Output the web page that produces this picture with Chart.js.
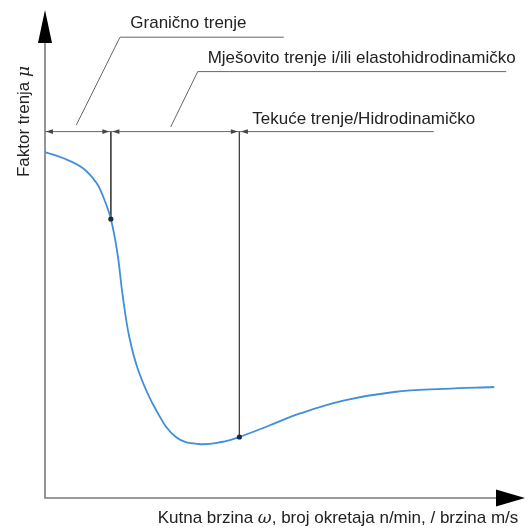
<!DOCTYPE html>
<html>
<head>
<meta charset="utf-8">
<script src="https://cdn.jsdelivr.net/npm/chart.js@4/dist/chart.umd.min.js"></script>
<style>
html,body{margin:0;padding:0;background:#fff;}
#wrap{width:529px;height:528px;position:relative;}
</style>
</head>
<body>
<div id="wrap"><canvas id="c" width="529" height="528"></canvas></div>
<script>
// Stribeck curve (schematic, arbitrary units)
const speed    = [0, 4.5, 9.5, 13, 14.6, 16.6, 18.25, 19.5, 21.25, 23.75, 28, 33, 38.75, 44.5, 49, 56.25, 64.5, 75.5, 88, 100.5, 113.25];
const friction = [86.5, 85, 82.5, 78.75, 75.5, 69.75, 61.25, 51.25, 40.25, 31.25, 22, 15.25, 13.5, 14, 15.25, 18, 21.2, 24.4, 26.5, 27.3, 27.75];
const boundaryIdx = [5, 14];            // transition points on the curve
const regimeLabels = ['Granično trenje', 'Mješovito trenje i/ili elastohidrodinamičko', 'Tekuće trenje/Hidrodinamičko'];
const xAxisTitle = ['Kutna brzina ', 'ω', ', broj okretaja n/min, / brzina m/s'];
const yAxisTitle = ['Faktor trenja ', 'μ'];

const dimLevel = 91.6;      // level of the dimension line (data units)
const dimEnd = 98;
const leader1 = [{x:7.9,y:93.25},{x:18.9,y:115.2},{x:60.2,y:115.2}];
const leader2 = [{x:31.7,y:92.8},{x:38.5,y:106.6},{x:116.25,y:106.6}];
const labelPos = [{x:21.5,y:117.4},{x:41,y:108.75},{x:52.25,y:93.5}];

const curve = speed.map((x,i)=>({x, y:friction[i]}));
const markers = boundaryIdx.map(i=>({x:speed[i], y:friction[i]}));
const lineDs = (data, color, width, order) => ({type:'line', data, borderColor:color, borderWidth:width, pointRadius:0, tension:0, fill:false, order});

const datasets = [
  {data:markers, showLine:false, pointRadius:2.6, pointBackgroundColor:'#1b2a3d', pointBorderColor:'#1b2a3d', pointBorderWidth:0, order:0},
  {type:'line', data:curve, showLine:true, borderColor:'#3f8fdc', borderWidth:1.8, pointRadius:0, tension:0.4, fill:false, order:1},
  lineDs([{x:0,y:dimLevel},{x:dimEnd,y:dimLevel}], '#666', 1, 2),
  lineDs(leader1, '#666', 1, 2),
  lineDs(leader2, '#666', 1, 2),
];
boundaryIdx.forEach(i => datasets.push(lineDs([{x:speed[i],y:dimLevel},{x:speed[i],y:friction[i]}], '#444', 1, 2)));

const FONT = '17px "Liberation Sans", Arial, sans-serif';
const IFONT = 'italic 17px "DejaVu Serif", "Liberation Serif", serif';

function drawSegments(ctx, segs, x, y, align){
  const fonts = segs.map((s,i)=> i%2===1 ? IFONT : FONT);
  let total = 0;
  const widths = segs.map((s,i)=>{ctx.font = fonts[i]; const w = ctx.measureText(s).width; total += w; return w;});
  let cx = align==='center' ? x - total/2 : x;
  ctx.textAlign = 'left';
  segs.forEach((s,i)=>{ctx.font = fonts[i]; ctx.fillText(s, cx, y); cx += widths[i];});
}

const deco = {
  id:'deco',
  beforeDatasetsDraw(chart){
    const {ctx, chartArea:a} = chart;
    ctx.save();
    ctx.strokeStyle = '#7a7a7a'; ctx.lineWidth = 1.6;
    ctx.beginPath();
    ctx.moveTo(a.left, a.top + 20); ctx.lineTo(a.left, a.bottom);
    ctx.lineTo(a.right - 20, a.bottom);
    ctx.stroke();
    ctx.fillStyle = '#000';
    ctx.beginPath();
    ctx.moveTo(a.left, a.top); ctx.lineTo(a.left - 7, a.top + 33); ctx.lineTo(a.left + 7, a.top + 33); ctx.closePath(); ctx.fill();
    ctx.beginPath();
    ctx.moveTo(a.right, a.bottom); ctx.lineTo(a.right - 29, a.bottom - 8.5); ctx.lineTo(a.right - 29, a.bottom + 8.5); ctx.closePath(); ctx.fill();
    ctx.restore();
  },
  afterDatasetsDraw(chart){
    const {ctx, scales:{x, y}} = chart;
    ctx.save();
    const dy = y.getPixelForValue(dimLevel);
    ctx.fillStyle = '#444';
    const arrow = (tipX, dir) => {
      ctx.beginPath();
      ctx.moveTo(tipX, dy); ctx.lineTo(tipX - dir*7, dy - 2.3); ctx.lineTo(tipX - dir*7, dy + 2.3); ctx.closePath(); ctx.fill();
    };
    arrow(x.getPixelForValue(0) + 1, -1);
    boundaryIdx.forEach(i => {
      const bx = x.getPixelForValue(speed[i]);
      arrow(bx - 1.5, 1);
      arrow(bx + 1.5, -1);
    });
    ctx.fillStyle = '#222';
    ctx.font = FONT; ctx.textBaseline = 'alphabetic'; ctx.textAlign = 'left';
    regimeLabels.forEach((t,i) => ctx.fillText(t, x.getPixelForValue(labelPos[i].x), y.getPixelForValue(labelPos[i].y)));
    drawSegments(ctx, xAxisTitle, 338, 523, 'center');
    ctx.translate(28.5, 121.5); ctx.rotate(-Math.PI/2);
    drawSegments(ctx, yAxisTitle, 0, 0, 'center');
    ctx.restore();
  }
};

new Chart(document.getElementById('c'), {
  type:'scatter',
  data:{datasets},
  options:{
    responsive:false, animation:false, maintainAspectRatio:false,
    layout:{padding:{left:45, top:10, right:0, bottom:30}},
    scales:{
      x:{type:'linear', min:0, max:121, display:false},
      y:{type:'linear', min:0, max:122, display:false}
    },
    plugins:{legend:{display:false}, tooltip:{enabled:false}},
    elements:{line:{borderCapStyle:'butt'}}
  },
  plugins:[deco]
});
</script>
</body>
</html>
